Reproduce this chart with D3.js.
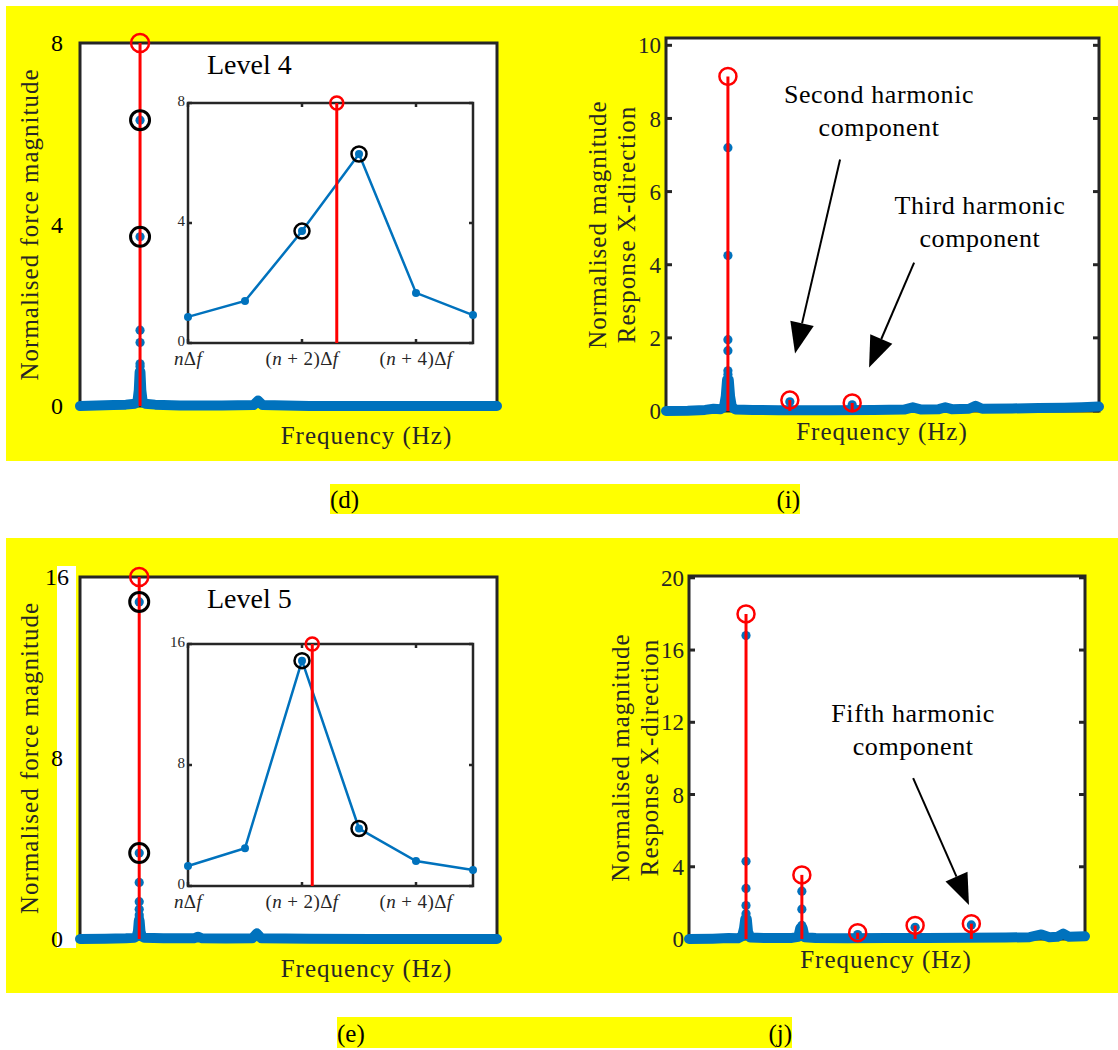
<!DOCTYPE html>
<html>
<head>
<meta charset="utf-8">
<script src="https://cdnjs.cloudflare.com/ajax/libs/d3/7.8.5/d3.min.js"></script>
<style>
  body { margin: 0; background: #fff; }
  svg text { white-space: pre; }
</style>
</head>
<body>
<svg width="1118" height="1050" font-family="'Liberation Serif', 'DejaVu Serif', serif"></svg>
<script>
const svg = d3.select('svg');

const blue = '#0072BD';
const red = '#FF0000';
const ink = '#262626';
const serif = "'Liberation Serif', 'DejaVu Serif', serif";

// ---- (d) force spectrum, level 4 : [frequency (0-100), magnitude] ----
const dSpectrum = [[0,0],[4,0.01],[8,0.02],[11,0.03],[13.2,0.05],[13.8,0.12],[14.1,0.35],[14.3,0.75],[14.5,0.75],[14.7,0.35],[15.0,0.12],[15.6,0.05],[18,0.03],[24,0.01],[34,0.01],[41.6,0.02],[42.7,0.12],[43.8,0.02],[55,0],[70,0],[85,0],[100,0]];
const dStemDots = [0.5, 0.64, 0.87, 0.93, 1.4, 1.67];
const dPeakFreq = 14.4;
const dPeakMag = 8;
const dInsetMag = [0.87, 1.4, 3.73, 6.3, 1.67, 0.93];
const dRinged = [2, 3];
const dInsetPeakBin = 2.61;
const dYTicks = [0, 4, 8];

// ---- (e) force spectrum, level 5 ----
const eSpectrum = [[0,0],[6,0.01],[11,0.03],[13.0,0.05],[13.6,0.12],[13.9,0.35],[14.1,0.8],[14.3,0.8],[14.5,0.35],[14.8,0.12],[15.4,0.05],[20,0.03],[27.3,0.03],[28.3,0.1],[29.3,0.03],[35,0.02],[41.3,0.03],[42.4,0.25],[43.5,0.03],[55,0.01],[70,0],[85,0],[100,0]];
const eStemDots = [0.7, 0.93, 1.06, 1.32, 1.65, 2.5];
const ePeakFreq = 14.2;
const ePeakMag = 16;
const eInsetMag = [1.32, 2.5, 14.9, 3.8, 1.65, 1.06];
const eRinged = [2, 3];
const eInsetPeakBin = 2.18;
const eYTicks = [0, 8, 16];

const insetTickBins = [0, 2, 4];
const insetTickText = [
  [['n', 1], ['Δ', 0], ['f', 1]],
  [['(', 0], ['n', 1], [' + 2)Δ', 0], ['f', 1]],
  [['(', 0], ['n', 1], [' + 4)Δ', 0], ['f', 1]]
];

// ---- (i) response X-direction ----
const iSpectrum = [[0,0],[5,0.01],[9,0.03],[11,0.06],[12.6,0.05],[13.4,0.12],[13.8,0.4],[14.1,0.85],[14.5,0.85],[14.8,0.4],[15.2,0.12],[16,0.04],[20,0.03],[26,0.02],[31,0.02],[38,0.02],[48,0.03],[55,0.04],[57,0.1],[59,0.04],[63,0.05],[64.5,0.1],[66,0.05],[70,0.06],[71.5,0.14],[73,0.06],[80,0.07],[86,0.08],[92,0.09],[96,0.1],[100,0.12]];
const iHarmonicFreq = [14.3, 28.6, 43.0];
const iHarmonicPeak = [9.15, 0.3, 0.22];
const iHarmonicDots = [[7.2, 4.25, 1.95, 1.65, 1.1, 1.0, 0.8], [0.25], [0.17]];
const iYTicks = [0, 2, 4, 6, 8, 10];

// ---- (j) response X-direction ----
const jSpectrum = [[0,0],[6,0.02],[10,0.05],[12.4,0.04],[13.4,0.15],[13.9,0.6],[14.2,1.1],[14.6,1.1],[14.9,0.4],[15.5,0.08],[20,0.05],[26,0.06],[27.6,0.12],[28.1,0.6],[28.7,0.6],[29.2,0.1],[32,0.05],[40,0.04],[50,0.05],[60,0.06],[70,0.07],[80,0.08],[86,0.1],[89,0.25],[91,0.1],[93,0.12],[94.5,0.3],[96,0.12],[100,0.15]];
const jHarmonicFreq = [14.4, 28.5, 42.6, 57.1, 71.3];
const jHarmonicPeak = [18.0, 3.55, 0.35, 0.75, 0.85];
const jHarmonicDots = [[16.8, 4.3, 2.8, 1.85, 1.4, 1.1], [2.65, 1.65, 0.75], [0.25], [0.65], [0.78]];
const jYTicks = [0, 4, 8, 12, 16, 20];

// backgrounds
svg.append('rect').attr('x', 6).attr('y', 6).attr('width', 1112).attr('height', 455).attr('fill', '#ffff00');
svg.append('rect').attr('x', 6).attr('y', 538).attr('width', 1112).attr('height', 455).attr('fill', '#ffff00');
svg.append('rect').attr('x', 330).attr('y', 484).attr('width', 470).attr('height', 30).attr('fill', '#ffff00');
svg.append('rect').attr('x', 337).attr('y', 1017).attr('width', 455).attr('height', 31).attr('fill', '#ffff00');
svg.append('rect').attr('x', 57).attr('y', 566).attr('width', 19).attr('height', 382).attr('fill', '#fff');

const caption = (x, y, t, anchor) => svg.append('text')
  .attr('x', x).attr('y', y).attr('text-anchor', anchor)
  .attr('font-family', serif).attr('font-size', 25).attr('fill', '#000').text(t);
caption(330, 508, '(d)', 'start');
caption(800, 508, '(i)', 'end');
caption(337, 1042, '(e)', 'start');
caption(792, 1042, '(j)', 'end');

const band = (g, x, y, data) => g.append('path').datum(data)
  .attr('d', d3.line().x(d => x(d[0])).y(d => y(d[1])))
  .attr('fill', 'none').attr('stroke', blue).attr('stroke-width', 10)
  .attr('stroke-linejoin', 'round').attr('stroke-linecap', 'round');

const ring = (g, cx, cy, r, color, w) => g.append('circle')
  .attr('cx', cx).attr('cy', cy).attr('r', r)
  .attr('fill', 'none').attr('stroke', color).attr('stroke-width', w);

const axisLabel = (g, x, y, t, rotate) => g.append('text')
  .attr('transform', `translate(${x},${y})` + (rotate ? ' rotate(-90)' : ''))
  .attr('text-anchor', 'middle').attr('font-family', serif).attr('font-size', 25)
  .attr('letter-spacing', 1).attr('fill', ink).text(t);

function forcePanel(o) {
  const g = svg.append('g');
  const x = d3.scaleLinear().domain([0, 100]).range([o.left, o.right]);
  const y = d3.scaleLinear().domain([0, o.yMax]).range([o.bottom, o.top]);

  g.append('rect').attr('x', o.left).attr('y', o.top)
    .attr('width', o.right - o.left).attr('height', o.bottom - o.top)
    .attr('fill', '#fff').attr('stroke', ink).attr('stroke-width', 3);

  g.selectAll(null).data(o.yTicks).enter().append('text')
    .attr('x', o.left - 23).attr('y', d => y(d)).attr('dy', '0.35em')
    .attr('text-anchor', 'middle').attr('font-family', serif)
    .attr('font-size', 24).attr('fill', '#000')
    .text(d => d);

  band(g, x, y, o.spectrum);

  const px = x(o.peakFreq);
  const ringed = o.ringed.map(i => o.insetMag[i]);
  g.selectAll(null).data(o.stemDots.concat(ringed)).enter().append('circle')
    .attr('cx', px).attr('cy', d => y(d)).attr('r', 4.6).attr('fill', blue);
  g.append('line').attr('x1', px).attr('x2', px)
    .attr('y1', y(0)).attr('y2', y(o.peakMag))
    .attr('stroke', red).attr('stroke-width', 3);
  ringed.forEach(v => ring(g, px, y(v), 9.5, '#000', 3));
  ring(g, px, y(o.peakMag), 9, red, 2.5);

  g.append('text').attr('x', o.left + 127).attr('y', o.top + 31)
    .attr('font-family', serif).attr('font-size', 28).attr('fill', '#000').text(o.level);

  axisLabel(g, (o.left + o.right) / 2 + 78, o.bottom + 38, 'Frequency (Hz)', false);
  axisLabel(g, 38, (o.top + o.bottom) / 2, 'Normalised force magnitude', true);

  // inset zoom of the peak bins
  const b = o.inset;
  const ix = d3.scaleLinear().domain([0, 5]).range([b.left, b.right]);
  const iy = d3.scaleLinear().domain([0, o.yMax]).range([b.bottom, b.top]);
  const ig = g.append('g');
  ig.append('rect').attr('x', b.left).attr('y', b.top)
    .attr('width', b.right - b.left).attr('height', b.bottom - b.top)
    .attr('fill', '#fff').attr('stroke', ink).attr('stroke-width', 2.5);
  insetTickBins.forEach(t => {
    ig.append('line').attr('x1', ix(t)).attr('x2', ix(t)).attr('y1', b.bottom).attr('y2', b.bottom - 4)
      .attr('stroke', ink).attr('stroke-width', 2.5);
    ig.append('line').attr('x1', ix(t)).attr('x2', ix(t)).attr('y1', b.top).attr('y2', b.top + 4)
      .attr('stroke', ink).attr('stroke-width', 2.5);
  });
  o.yTicks.forEach(t => {
    ig.append('line').attr('x1', b.left).attr('x2', b.left + 4).attr('y1', iy(t)).attr('y2', iy(t))
      .attr('stroke', ink).attr('stroke-width', 2.5);
    ig.append('line').attr('x1', b.right).attr('x2', b.right - 4).attr('y1', iy(t)).attr('y2', iy(t))
      .attr('stroke', ink).attr('stroke-width', 2.5);
  });
  ig.selectAll(null).data(o.yTicks).enter().append('text')
    .attr('x', b.left - 3).attr('y', d => iy(d) - 2).attr('dy', '0.35em')
    .attr('text-anchor', 'end').attr('font-family', serif)
    .attr('font-size', 15).attr('fill', ink)
    .text(d => d);
  insetTickBins.forEach((t, k) => {
    const tx = ig.append('text').attr('x', ix(t)).attr('y', b.bottom + 22)
      .attr('text-anchor', 'middle').attr('font-family', serif)
      .attr('font-size', 19).attr('letter-spacing', 0.4).attr('fill', ink);
    insetTickText[k].forEach(([s, it]) => tx.append('tspan')
      .attr('font-style', it ? 'italic' : null).text(s));
  });

  ig.append('path').datum(o.insetMag)
    .attr('d', d3.line().x((d, i) => ix(i)).y(d => iy(d)))
    .attr('fill', 'none').attr('stroke', blue).attr('stroke-width', 2.5);
  ig.selectAll(null).data(o.insetMag).enter().append('circle')
    .attr('cx', (d, i) => ix(i)).attr('cy', d => iy(d)).attr('r', 4).attr('fill', blue);
  ig.append('line').attr('x1', ix(o.insetPeakBin)).attr('x2', ix(o.insetPeakBin))
    .attr('y1', iy(0)).attr('y2', iy(o.peakMag))
    .attr('stroke', red).attr('stroke-width', 3);
  ring(ig, ix(o.insetPeakBin), iy(o.peakMag), 6.5, red, 2.5);
  o.ringed.forEach(i => ring(ig, ix(i), iy(o.insetMag[i]), 7.5, '#000', 2.5));
}

function arrow(g, x0, y0, x1, y1) {
  const dx = x1 - x0, dy = y1 - y0, len = Math.hypot(dx, dy);
  const ux = dx / len, uy = dy / len;
  const bx = x1 - ux * 31, by = y1 - uy * 31;
  g.append('line').attr('x1', x0).attr('y1', y0).attr('x2', bx).attr('y2', by)
    .attr('stroke', '#000').attr('stroke-width', 2);
  g.append('path')
    .attr('d', `M${x1},${y1}L${bx - uy * 12},${by + ux * 12}L${bx + uy * 12},${by - ux * 12}Z`)
    .attr('fill', '#000');
}

function responsePanel(o) {
  const g = svg.append('g');
  const x = d3.scaleLinear().domain([0, 100]).range([o.left, o.right]);
  const y = d3.scaleLinear().domain([0, o.yMax]).range([o.bottom, o.top]);

  g.append('rect').attr('x', o.left).attr('y', o.top)
    .attr('width', o.right - o.left).attr('height', o.bottom - o.top)
    .attr('fill', '#fff').attr('stroke', ink).attr('stroke-width', 3);
  o.yTicks.forEach(t => {
    g.append('line').attr('x1', o.left).attr('x2', o.left + 6).attr('y1', y(t)).attr('y2', y(t))
      .attr('stroke', ink).attr('stroke-width', 3);
    g.append('line').attr('x1', o.right).attr('x2', o.right - 6).attr('y1', y(t)).attr('y2', y(t))
      .attr('stroke', ink).attr('stroke-width', 3);
  });
  g.selectAll(null).data(o.yTicks).enter().append('text')
    .attr('x', o.left - 5).attr('y', d => y(d)).attr('dy', '0.35em')
    .attr('text-anchor', 'end').attr('font-family', serif)
    .attr('font-size', 23).attr('fill', ink)
    .text(d => d);

  band(g, x, y, o.spectrum);

  o.harmonicFreq.forEach((f, k) => {
    g.selectAll(null).data(o.harmonicDots[k]).enter().append('circle')
      .attr('cx', x(f)).attr('cy', d => y(d)).attr('r', 4.6).attr('fill', blue);
  });
  o.harmonicFreq.forEach((f, k) => {
    g.append('line').attr('x1', x(f)).attr('x2', x(f))
      .attr('y1', y(0)).attr('y2', y(o.harmonicPeak[k]))
      .attr('stroke', red).attr('stroke-width', 3);
    ring(g, x(f), y(o.harmonicPeak[k]), 8.5, red, 2.5);
  });

  o.notes.forEach(n => {
    n.lines.forEach((t, i) => g.append('text')
      .attr('x', x(n.at[0])).attr('y', y(n.at[1]) + i * 33)
      .attr('text-anchor', 'middle').attr('font-family', serif)
      .attr('font-size', 26).attr('letter-spacing', 0.6)
      .attr('fill', '#000').text(t));
  });
  o.arrows.forEach(a => arrow(g, x(a[0][0]), y(a[0][1]), x(a[1][0]), y(a[1][1])));

  axisLabel(g, o.xLabelX, o.bottom + 29, 'Frequency (Hz)', false);
  axisLabel(g, o.left - 60, (o.top + o.bottom) / 2, 'Normalised magnitude', true);
  axisLabel(g, o.left - 31, (o.top + o.bottom) / 2, 'Response X-direction', true);
}

forcePanel({
  left: 80, right: 497, top: 43, bottom: 406, yMax: dPeakMag, yTicks: dYTicks,
  spectrum: dSpectrum, stemDots: dStemDots, peakFreq: dPeakFreq, peakMag: dPeakMag,
  insetMag: dInsetMag, ringed: dRinged, insetPeakBin: dInsetPeakBin, level: 'Level 4',
  inset: { left: 188, right: 473, top: 103, bottom: 343 }
});

forcePanel({
  left: 80, right: 497, top: 577, bottom: 939, yMax: ePeakMag, yTicks: eYTicks,
  spectrum: eSpectrum, stemDots: eStemDots, peakFreq: ePeakFreq, peakMag: ePeakMag,
  insetMag: eInsetMag, ringed: eRinged, insetPeakBin: eInsetPeakBin, level: 'Level 5',
  inset: { left: 188, right: 473, top: 644, bottom: 886 }
});

responsePanel({
  left: 666, right: 1099, top: 38, bottom: 411, yMax: 10.2, yTicks: iYTicks,
  spectrum: iSpectrum, harmonicFreq: iHarmonicFreq, harmonicPeak: iHarmonicPeak,
  harmonicDots: iHarmonicDots, xLabelX: 882,
  notes: [
    { lines: ['Second harmonic', 'component'], at: [49.2, 8.41] },
    { lines: ['Third harmonic', 'component'], at: [72.5, 5.40] }
  ],
  arrows: [[[40.2, 6.88], [29.8, 1.57]], [[57.3, 4.06], [46.9, 1.19]]]
});

responsePanel({
  left: 689, right: 1085, top: 576, bottom: 939, yMax: 20.1, yTicks: jYTicks,
  spectrum: jSpectrum, harmonicFreq: jHarmonicFreq, harmonicPeak: jHarmonicPeak,
  harmonicDots: jHarmonicDots, xLabelX: 886,
  notes: [
    { lines: ['Fifth harmonic', 'component'], at: [56.6, 12.0] }
  ],
  arrows: [[[56.6, 8.91], [70.7, 1.88]]]
});
</script>
</body>
</html>
